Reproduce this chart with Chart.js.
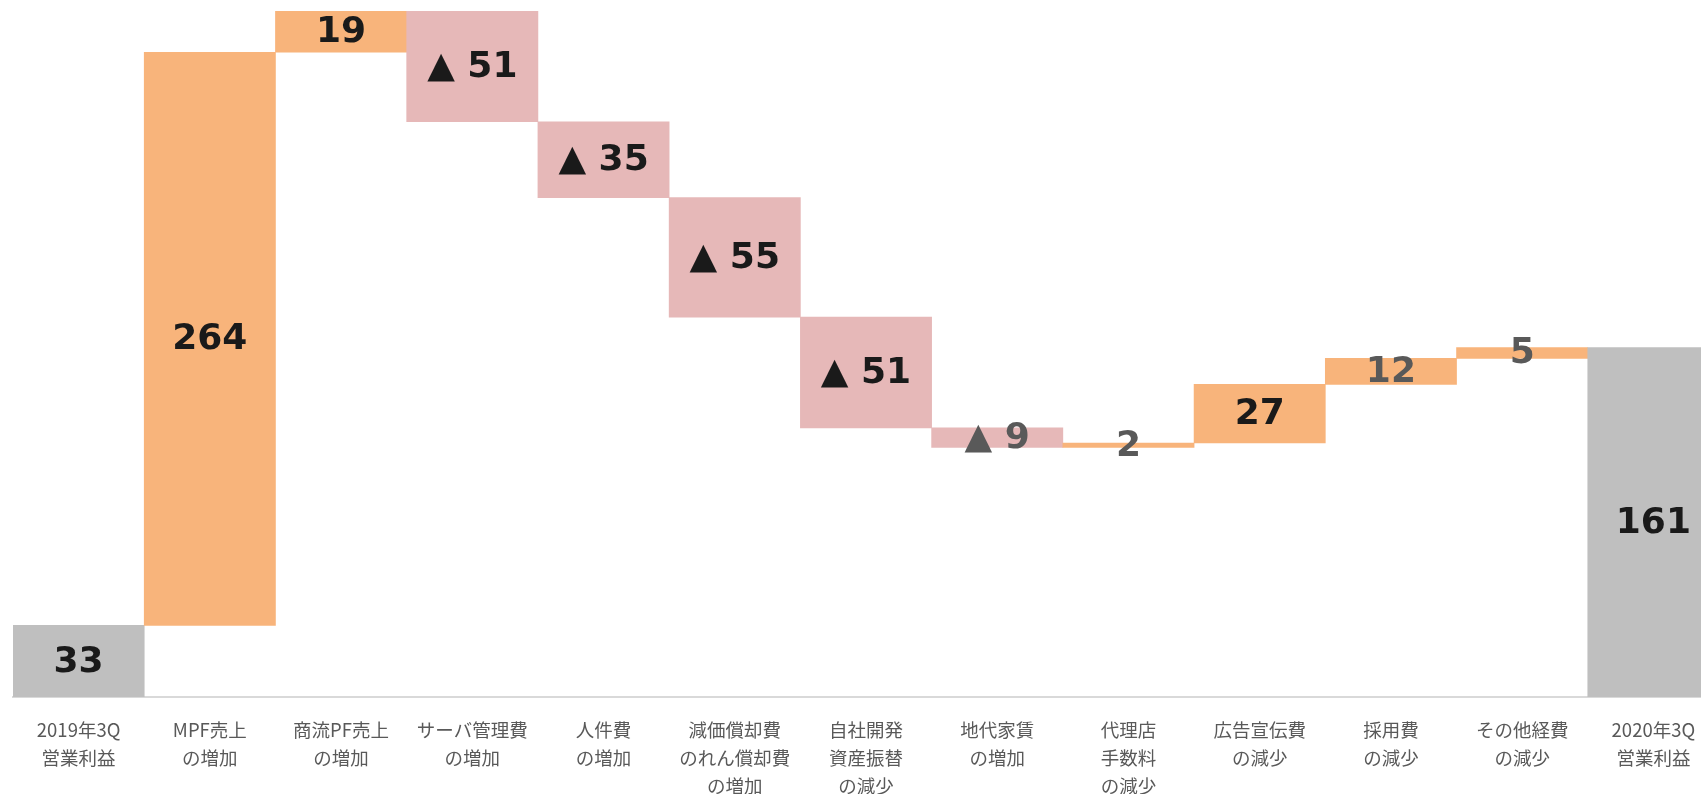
<!DOCTYPE html>
<html>
<head>
<meta charset="utf-8">
<script src="https://cdn.jsdelivr.net/npm/chart.js@4/dist/chart.umd.min.js"></script>
<style>
  html, body { margin: 0; padding: 0; background: #ffffff; overflow: hidden; }
  #wrap { position: absolute; left: 0; top: 0; width: 1719px; height: 794px; }
</style>
</head>
<body>
<div id="wrap"><canvas id="c"></canvas></div>
<script>
// ---- data ----
const categories = [
  ['2019年3Q', '営業利益'],
  ['MPF売上', 'の増加'],
  ['商流PF売上', 'の増加'],
  ['サーバ管理費', 'の増加'],
  ['人件費', 'の増加'],
  ['減価償却費', 'のれん償却費', 'の増加'],
  ['自社開発', '資産振替', 'の減少'],
  ['地代家賃', 'の増加'],
  ['代理店', '手数料', 'の減少'],
  ['広告宣伝費', 'の減少'],
  ['採用費', 'の減少'],
  ['その他経費', 'の減少'],
  ['2020年3Q', '営業利益']
];
const startTotal = 33;
const changes = [264, 19, -51, -35, -55, -51, -9, 2, 27, 12, 5];
const endTotal = 161;

// ---- build floating ranges (waterfall) ----
const ranges = [];
const kinds = [];
const labelValues = [];
ranges.push([0, startTotal]); kinds.push('total'); labelValues.push(startTotal);
let running = startTotal;
for (const d of changes) {
  ranges.push([running, running + d]);
  kinds.push(d >= 0 ? 'up' : 'down');
  labelValues.push(d);
  running += d;
}
ranges.push([0, endTotal]); kinds.push('total'); labelValues.push(endTotal);

const colorOf = { total: '#BFBFBF', up: '#F8B47B', down: '#E6B8B8' };

const valueLabels = {
  id: 'valueLabels',
  afterDatasetsDraw(chart) {
    const ctx = chart.ctx;
    const meta = chart.getDatasetMeta(0);
    ctx.save();
    ctx.font = 'bold 36px "DejaVu Sans"';
    ctx.textAlign = 'center';
    ctx.textBaseline = 'middle';
    meta.data.forEach((bar, i) => {
      const v = labelValues[i];
      const txt = v < 0 ? '▲ ' + Math.abs(v) : String(v);
      const top = Math.min(bar.y, bar.base);
      const h = Math.abs(bar.base - bar.y);
      ctx.fillStyle = h < 30 ? '#595959' : '#1a1a1a';
      ctx.fillText(txt, bar.x, top + h / 2 + 1);
    });
    ctx.restore();
  }
};

new Chart(document.getElementById('c'), {
  type: 'bar',
  data: {
    labels: categories,
    datasets: [{
      data: ranges,
      backgroundColor: kinds.map(k => colorOf[k]),
      borderWidth: 0,
      barPercentage: 1.0,
      categoryPercentage: 1.0
    }]
  },
  options: {
    responsive: true,
    maintainAspectRatio: false,
    animation: false,
    layout: { padding: { left: 13, right: 0, top: 11, bottom: 0 } },
    plugins: { legend: { display: false }, tooltip: { enabled: false } },
    scales: {
      x: {
        grid: { display: false, drawTicks: false },
        border: { display: true, color: '#D9D9D9', width: 2 },
        ticks: {
          color: '#595959',
          font: { family: '"Noto Sans CJK JP"', size: 18.5, lineHeight: 1.51 },
          padding: 19,
          maxRotation: 0,
          autoSkip: false
        },
        afterFit(scale) { scale.height = 97; }
      },
      y: {
        display: false,
        min: 0,
        max: 316
      }
    }
  },
  plugins: [valueLabels]
});
</script>
</body>
</html>
